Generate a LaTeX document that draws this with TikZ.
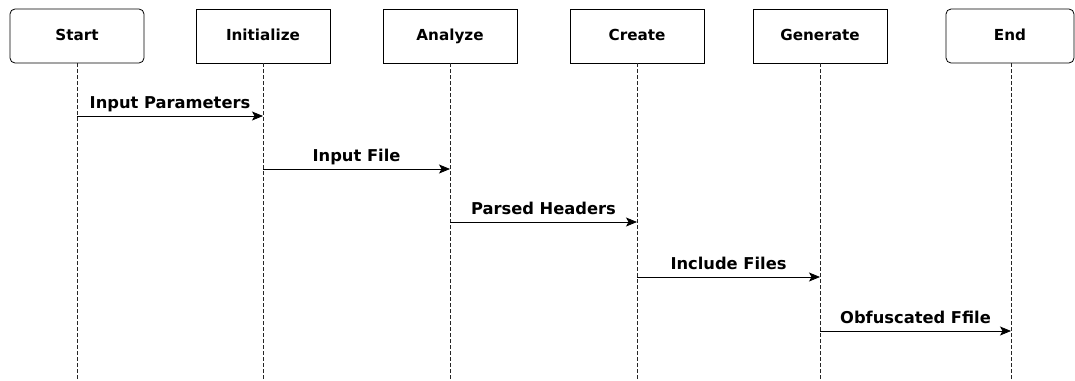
\documentclass[tikz,border=0pt]{standalone}
\usepackage{fontspec}
\setmainfont{DejaVu Sans}
\usetikzlibrary{arrows.meta}

\begin{document}
\begin{tikzpicture}[x=1pt, y=-1pt,
    actor/.style={draw, line width=0.8pt, minimum width=134pt, minimum height=54pt, inner sep=0pt, text height=11pt, text depth=3pt, font=\bfseries\fontsize{15.2}{17}\selectfont},
    lifeline/.style={line width=0.7pt, dash pattern=on 3.5pt off 2.5pt, black!85},
    msg/.style={line width=0.8pt, -{Stealth[length=11pt, width=9pt, inset=2.5pt]}},
    msglabel/.style={anchor=base, yshift=8pt, inner sep=0pt, font=\bfseries\fontsize{16.3}{18}\selectfont}]
    \useasboundingbox (0,0) rectangle (1075,380);

    % Participants
    \node[actor, rounded corners=5pt] (start) at (77, 36) {Start};
    \node[actor] (init) at (263, 36) {Initialize};
    \node[actor] (analyze) at (450, 36) {Analyze};
    \node[actor] (create) at (637, 36) {Create};
    \node[actor] (generate) at (820, 36) {Generate};
    \node[actor, rounded corners=5pt, minimum width=128pt] (end) at (1010, 36) {End};

    % Lifelines
    \draw[lifeline] (start.south) -- (start.south |- 0, 380);
    \draw[lifeline] (init.south) -- (init.south |- 0, 380);
    \draw[lifeline] (analyze.south) -- (analyze.south |- 0, 380);
    \draw[lifeline] (create.south) -- (create.south |- 0, 380);
    \draw[lifeline] (generate.south) -- (generate.south |- 0, 380);
    \draw[lifeline] ([xshift=1pt]end.south) -- ([xshift=1pt]end.south |- 0, 380);

    % Messages
    \draw[msg] (start |- 0, 116) -- node[msglabel] {Input Parameters} (init |- 0, 116);
    \draw[msg] (init |- 0, 169) -- node[msglabel] {Input File} (analyze |- 0, 169);
    \draw[msg] (analyze |- 0, 222) -- node[msglabel] {Parsed Headers} (create |- 0, 222);
    \draw[msg] (create |- 0, 277) -- node[msglabel] {Include Files} (generate |- 0, 277);
    \draw[msg] (generate |- 0, 331) -- node[msglabel] {Obfuscated Ffile} ([xshift=1pt]end |- 0, 331);
\end{tikzpicture}
\end{document}
